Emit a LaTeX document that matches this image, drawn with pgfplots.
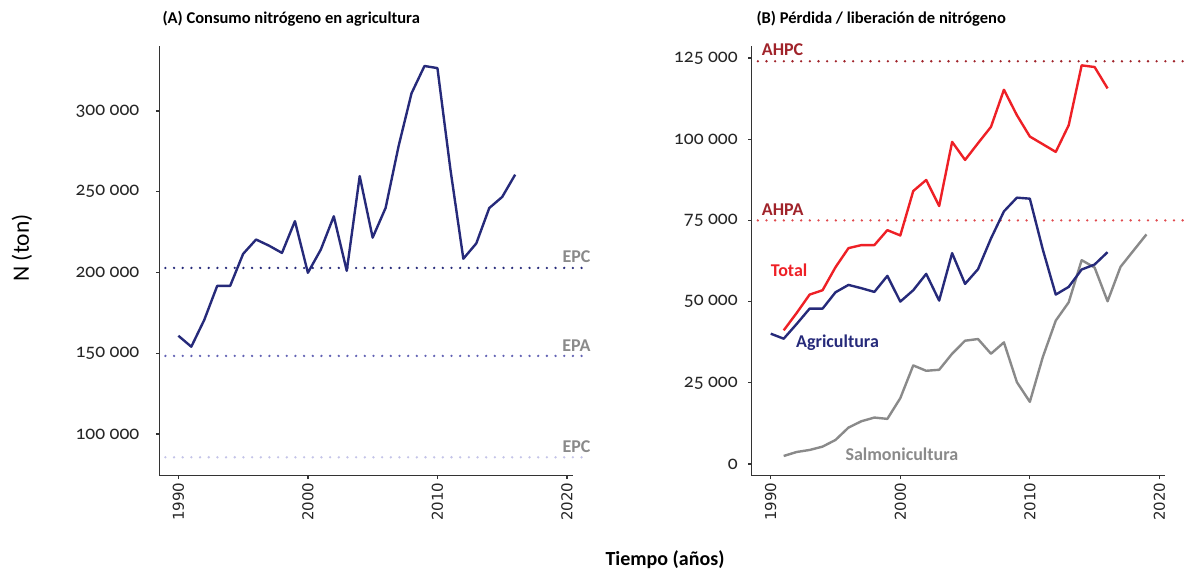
\documentclass[border=0pt]{standalone}
\usepackage{fontspec}
\setmainfont{Carlito}
\newfontfamily\tickfont{Carlito}[Numbers=OldStyle]
\newfontfamily\xtfont{DejaVu Sans}
\usepackage{pgfplots}
\pgfplotsset{compat=1.18}
\definecolor{navy}{HTML}{262A7A}
\definecolor{tred}{HTML}{EE2026}
\definecolor{sgray}{HTML}{8A8A8A}
\definecolor{dred}{HTML}{A0232A}
\definecolor{lred}{HTML}{E04A4E}
\definecolor{epa}{HTML}{6262B4}
\definecolor{epcl}{HTML}{C4C4E8}
\definecolor{spine}{HTML}{333333}
\pgfplotsset{
 common/.style={
  scale only axis, width=413.5bp, height=429.7bp,
  axis lines=left, axis line style={-, spine, line width=1.3bp},
  tick align=outside, major tick length=3.5bp, tick style={spine, line width=1.3bp},
  scaled y ticks=false, scaled x ticks=false,
  xtick={1990,2000,2010,2020}, xticklabels={1990,2000,2010,2020},
  xticklabel style={rotate=90, anchor=east, font=\xtfont\fontsize{15bp}{18bp}\selectfont, text=black!85},
  yticklabel style={font=\tickfont\fontsize{19.5bp}{22bp}\selectfont, text=black!85},
  xmin=1988.53, xmax=2020.45, clip=false,
 },
 dline/.style={line width=2.4bp, line join=round},
 refl/.style={line width=2.6bp, line cap=round, dash pattern=on 0bp off 8.67bp},
}
\begin{document}
\begin{tikzpicture}[x=1bp,y=1bp]
\path[use as bounding box] (0,0) rectangle (1186,571);
% Panel A
\begin{axis}[common, at={(159.3bp,95.3bp)}, anchor=south west,
  yticklabel style={xshift=-13bp},
  ymin=74100, ymax=340300,
  ytick={100000,150000,200000,250000,300000},
  yticklabels={{100 000},{150 000},{200 000},{250 000},{300 000}}]
\addplot[refl, navy] coordinates {(1989.0,202800) (2021.74,202800)};
\addplot[refl, epa] coordinates {(1989.0,148300) (2021.74,148300)};
\addplot[refl, epcl] coordinates {(1989.0,85500) (2021.74,85500)};
\addplot[dline, navy] coordinates {
(1990,160800) (1991,154000) (1992,170600) (1993,191700) (1994,191700)
(1995,211500) (1996,220400) (1997,216600) (1998,212100) (1999,231800)
(2000,199800) (2001,214200) (2002,234800) (2003,201000) (2004,259700)
(2005,221600) (2006,240000) (2007,278200) (2008,311000) (2009,327900)
(2010,326600) (2011,264000) (2012,208500) (2013,218000) (2014,239900)
(2015,246800) (2016,260600)};
\end{axis}
% Panel B
\begin{axis}[common, at={(751.7bp,95.3bp)}, anchor=south west,
  yticklabel style={xshift=-7bp},
  ymin=-3600, ymax=128700,
  ytick={0,25000,50000,75000,100000,125000},
  yticklabels={0,{25 000},{50 000},{75 000},{100 000},{125 000}}]
\addplot[refl, dred] coordinates {(1989.0,124000) (2022.07,124000)};
\addplot[refl, lred] coordinates {(1989.0,75000) (2022.07,75000)};
\addplot[dline, sgray] coordinates {
(1991,2470) (1992,3700) (1993,4320) (1994,5350) (1995,7410) (1996,11210)
(1997,13170) (1998,14300) (1999,13890) (2000,20270) (2001,30350) (2002,28700)
(2003,29010) (2004,33950) (2005,37960) (2006,38480) (2007,33950) (2008,37450)
(2009,25200) (2010,19140) (2011,32920) (2012,44140) (2013,49790) (2014,62760)
(2015,60490) (2016,50100) (2017,60700) (2018,65700) (2019,70680)};
\addplot[dline, navy] coordinates {
(1990,40120) (1991,38580) (1992,43110) (1993,47840) (1994,47840) (1995,52880)
(1996,55140) (1997,54120) (1998,52980) (1999,57920) (2000,50000) (2001,53500)
(2002,58540) (2003,50310) (2004,64920) (2005,55450) (2006,59980) (2007,69440)
(2008,77780) (2009,82000) (2010,81690) (2011,66050) (2012,52160) (2013,54530)
(2014,59880) (2015,61420) (2016,65230)};
\addplot[dline, tred] coordinates {
(1991,41150) (1992,46500) (1993,52160) (1994,53500) (1995,60600) (1996,66460)
(1997,67400) (1998,67400) (1999,72000) (2000,70370) (2001,84050) (2002,87450)
(2003,79420) (2004,99180) (2005,93620) (2006,98770) (2007,103800) (2008,115230)
(2009,107400) (2010,100820) (2011,98460) (2012,96090) (2013,104300) (2014,122740)
(2015,122220) (2016,115640)};
\end{axis}
% Titles and labels
\node[anchor=base west, font=\bfseries\fontsize{16.5bp}{20bp}\selectfont] at (159,547) {(A) Consumo nitrógeno en agricultura};
\node[anchor=base west, font=\bfseries\fontsize{16.5bp}{20bp}\selectfont] at (753,547) {(B) Pérdida / liberación de nitrógeno};
\node[rotate=90, font=\fontsize{23.5bp}{26bp}\selectfont] at (22,323) {N (ton)};
\node[font=\bfseries\fontsize{20bp}{22bp}\selectfont] at (665,11) {Tiempo (años)};
\node[anchor=east, text=sgray, font=\bfseries\fontsize{18bp}{20bp}\selectfont] at (594,314) {EPC};
\node[anchor=east, text=sgray, font=\bfseries\fontsize{18bp}{20bp}\selectfont] at (594,225.3) {EPA};
\node[anchor=east, text=sgray, font=\bfseries\fontsize{18bp}{20bp}\selectfont] at (594,124) {EPC};
\node[anchor=west, inner sep=0, text=dred, font=\bfseries\fontsize{18bp}{20bp}\selectfont] at (761.7,521.7) {AHPC};
\node[anchor=west, inner sep=0, text=dred, font=\bfseries\fontsize{18bp}{20bp}\selectfont] at (761.7,361) {AHPA};
\node[anchor=west, inner sep=0, text=tred, font=\bfseries\fontsize{18bp}{20bp}\selectfont] at (770.7,301) {Total};
\node[anchor=west, inner sep=0, text=navy, font=\bfseries\fontsize{18bp}{20bp}\selectfont] at (796,228.7) {Agricultura};
\node[anchor=west, inner sep=0, text=sgray, font=\bfseries\fontsize{18bp}{20bp}\selectfont] at (845.3,117) {Salmonicultura};
\end{tikzpicture}
\end{document}
